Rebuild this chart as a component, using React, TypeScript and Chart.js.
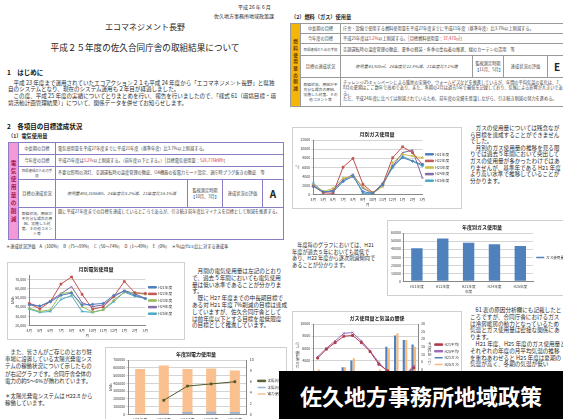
import React, { useEffect, useRef } from 'react';
import { Chart, registerables } from 'chart.js';
Chart.register(...registerables);

const FONT = '"Noto Sans CJK JP", "Noto Sans", sans-serif';
Chart.defaults.font.family = FONT;
Chart.defaults.color = '#404040';

// ---------- data ----------
const months = ['4月', '5月', '6月', '7月', '8月', '9月', '10月', '11月', '12月', '1月', '2月', '3月'];
const fiscalYears = ['H21年度', 'H22年度', 'H23年度', 'H24年度', 'H25年度'];

const elecH21 = [42300, 41200, 45800, 52800, 55300, 42300, 43000, 44000, 52800, 57400, 52800, 49300];
const elecH22 = [43700, 38000, 46100, 65100, 72900, 53900, 37700, 40100, 51400, 68000, 55600, 54900];
const elecH23 = [38700, 35200, 37000, 54600, 56300, 40500, 34500, 37000, 47500, 56300, 55300, 53900];
const elecH24 = [44000, 40500, 46800, 54600, 62300, 44700, 40500, 42300, 51100, 58100, 54600, 49300];
const elecH25 = [37700, 34200, 35200, 48200, 52500, 35200, 34200, 37000, 45800, 56300, 51800, 49300];

const elecYearly = [583000, 628000, 583000, 592000, 565000];
const solarYearly = [null, 15000, 30000, 32000, 31000];
const solarRatio = [null, 2.6, 5.2, 5.6, 6.0];

const gasH21 = [1720, 600, 600, 2850, 3970, 600, 220, 2100, 6220, 8090, 7340, 6590];
const gasH22 = [1870, 370, 220, 6000, 7940, 2250, 370, 2250, 8090, 10490, 9210, 6590];
const gasH23 = [2100, 600, 1350, 3600, 3970, 1720, 220, 1720, 6970, 8840, 8460, 8090];
const gasH24 = [2100, 370, 970, 3220, 4340, 1350, 220, 2100, 6220, 9210, 9740, 3600];
const gasH25 = [2470, 600, 600, 2850, 4340, 220, 220, 2470, 5840, 8460, 7340, 6220];

const gasYearly = [41000, 53300, 47800, 46000, 43900];

const tempH21 = [7.4, 13.3, 17.6, 21.9, 22.4, 17.6, 11.7, 3.3, -1.0, -3.3, -3.8, 1.0];
const tempH25 = [8.3, 14.0, 18.8, 23.8, 24.3, 18.8, 12.2, 4.5, -1.5, -4.2, -3.8, 2.4];

const yearColors = ['#4F81BD', '#C0504D', '#9BBB59', '#8064A2', '#4BACC6'];
const gasYearColors = ['#4F81BD', '#C0504D', '#C8C04A', '#8064A2', '#4BACC6'];
const markers = ['rectRot', 'rect', 'triangle', 'crossRot', 'star'];

// ---------- helpers ----------
const TF = 3.6;
const fmt = (v: any) => Number(v).toLocaleString('en-US');

function lineSets(series: number[][], colors: string[]) {
  return series.map((d, i) => ({
    label: fiscalYears[i],
    data: d,
    borderColor: colors[i],
    backgroundColor: colors[i],
    borderWidth: 1,
    pointRadius: 1.4,
    pointStyle: markers[i],
    pointBorderWidth: 0.6,
  }));
}

function baseOpts(title: string) {
  return {
    responsive: false,
    animation: false,
    maintainAspectRatio: false,
    layout: { padding: { left: 2, right: 2, top: 0, bottom: 1 } },
    plugins: {
      title: { display: true, text: title, font: { size: 5, weight: 'bold' }, color: '#222', padding: { top: 3, bottom: 3 } },
      legend: {
        position: 'right',
        labels: { font: { size: TF }, boxWidth: 8, boxHeight: 1.5, padding: 3, color: '#333' },
      },
      tooltip: { enabled: false },
    },
  };
}

function xScale(titleText: string) {
  return {
    grid: { display: false, tickLength: 2 },
    border: { color: '#888' },
    ticks: { font: { size: TF }, padding: 1, maxRotation: 0, autoSkip: false },
    title: { display: !!titleText, text: titleText, font: { size: TF }, padding: 0 },
  };
}

function yScale(min: number, max: number, step: number, titleText: string, callback?: any) {
  return {
    min, max,
    grid: { color: '#d4d4d4', tickLength: 2 },
    border: { color: '#888' },
    ticks: { stepSize: step, font: { size: TF }, padding: 1, callback: callback || ((v: any) => v) },
    title: { display: !!titleText, text: titleText, font: { size: TF }, padding: 0 },
  };
}

function ChartBox({ left, top, width, height, make }: any) {
  const ref = useRef<HTMLCanvasElement>(null);
  useEffect(() => {
    const chart = new Chart(ref.current as HTMLCanvasElement, make());
    return () => chart.destroy();
  }, []);
  return (
    <div style={{ position: 'absolute', left, top, width, height, border: '1px solid #d0d0d0', boxSizing: 'border-box', background: '#fff' }}>
      <canvas ref={ref} width={width - 2} height={height - 2} style={{ display: 'block', width: width - 2, height: height - 2 }} />
    </div>
  );
}

const makeElecMonthly = () => ({
  type: 'line',
  data: { labels: months, datasets: lineSets([elecH21, elecH22, elecH23, elecH24, elecH25], yearColors) },
  options: {
    ...baseOpts('月別電気使用量'),
    scales: { x: xScale('月'), y: yScale(20000, 75000, 5000, 'kWh', fmt) },
  },
});

const makeElecYearly = () => ({
  type: 'bar',
  data: {
    labels: fiscalYears,
    datasets: [
      { label: '電力使用量', data: elecYearly, backgroundColor: '#FAC090', grouped: false, order: 2, barPercentage: 0.85, categoryPercentage: 0.5, yAxisID: 'y' },
      { label: '太陽光発電量', data: solarYearly, backgroundColor: '#95B3D7', grouped: false, order: 1, barPercentage: 0.85, categoryPercentage: 0.5, yAxisID: 'y' },
      { type: 'line', label: '太陽光発電割合', data: solarRatio, borderColor: '#4F5A2A', backgroundColor: '#4F5A2A', borderWidth: 1, pointRadius: 1.3, pointStyle: 'rect', order: 0, yAxisID: 'y1' },
    ],
  },
  options: {
    ...baseOpts('年度別電力使用量'),
    scales: {
      x: xScale('年度'),
      y: yScale(0, 700000, 100000, 'kWh'),
      y1: { position: 'right', min: 0, max: 10, grid: { display: false, tickLength: 2 }, border: { color: '#888' }, ticks: { stepSize: 1, font: { size: TF }, padding: 1 } },
    },
  },
});

const makeGasMonthly = () => ({
  type: 'line',
  data: { labels: months, datasets: lineSets([gasH21, gasH22, gasH23, gasH24, gasH25], gasYearColors) },
  options: {
    ...baseOpts('月別ガス使用量'),
    scales: { x: xScale('月'), y: yScale(0, 12000, 2000, '㎥') },
  },
});

const makeGasYearly = () => ({
  type: 'bar',
  data: {
    labels: fiscalYears,
    datasets: [{ label: 'ガス使用量', data: gasYearly, backgroundColor: '#4F81BD', barPercentage: 0.55, categoryPercentage: 0.8 }],
  },
  options: {
    ...baseOpts('年度別ガス使用量'),
    scales: { x: xScale('年度'), y: yScale(0, 60000, 10000, '') },
  },
});

const makeGasTemp = () => ({
  type: 'bar',
  data: {
    labels: months,
    datasets: [
      { label: 'H21ガス使用量', data: gasH21, backgroundColor: '#4F81BD', order: 2, barPercentage: 0.9, categoryPercentage: 0.55, yAxisID: 'y' },
      { label: 'H25ガス使用量', data: gasH25, backgroundColor: '#F9B97C', order: 2, barPercentage: 0.9, categoryPercentage: 0.55, yAxisID: 'y' },
      { type: 'line', label: 'H21平均気温', data: tempH21, borderColor: '#B03A4A', backgroundColor: '#B03A4A', borderWidth: 1, pointRadius: 1.3, pointStyle: 'rect', order: 0, yAxisID: 'y1' },
      { type: 'line', label: 'H25平均気温', data: tempH25, borderColor: '#9A6BB8', backgroundColor: '#9A6BB8', borderWidth: 1, pointRadius: 1.3, pointStyle: 'crossRot', order: 0, yAxisID: 'y1' },
    ],
  },
  options: {
    ...baseOpts('ガス使用量と気温の関係'),
    scales: {
      x: xScale('月'),
      y: yScale(0, 10000, 1000, 'ガス使用量（㎥）'),
      y1: { position: 'right', min: -10, max: 30, grid: { display: false, tickLength: 2 }, border: { color: '#888' }, ticks: { stepSize: 5, font: { size: TF }, padding: 1 }, title: { display: true, text: '平均気温（℃）', font: { size: TF }, padding: 0 } },
    },
  },
});

// ---------- text helpers ----------
function Lines({ x, y, lh, fs, lines, color = '#2a2a2a', weight = 400 }: any) {
  return (
    <div style={{ position: 'absolute', left: x, top: y, fontSize: fs, lineHeight: lh + 'px', color, fontWeight: weight, whiteSpace: 'nowrap' }}>
      {lines.map((l: string, i: number) => (<div key={i} style={{ height: lh }}>{l || '\u00a0'}</div>))}
    </div>
  );
}

function Cell({ x, y, w, h, bc, bg = '#fff', children, style = {} }: any) {
  return (
    <div style={{ position: 'absolute', left: x, top: y, width: w + 1, height: h + 1, boxSizing: 'border-box', border: `1px solid ${bc}`, background: bg, overflow: 'hidden', display: 'flex', alignItems: 'center', fontSize: 4.2, lineHeight: '5.4px', color: '#444', padding: '0 2px', ...style }}>
      {children}
    </div>
  );
}

const Red = ({ children }: any) => <span style={{ color: '#E0303A' }}>{children}</span>;

function Vertical({ text, color, fs }: any) {
  return (
    <div style={{ width: '100%', display: 'flex', flexDirection: 'column', alignItems: 'center', fontSize: fs, lineHeight: fs * 1.45 + 'px', fontWeight: 700, color }}>
      {text.split('').map((c: string, i: number) => <div key={i}>{c}</div>)}
    </div>
  );
}

function ElecTable() {
  const bc = '#8C7CC4';
  const X0 = 8, X1 = 18, X2 = 55, X3 = 283;
  const R = [142, 154, 166, 179, 207, 239];
  const label = { justifyContent: 'center', textAlign: 'center' as const };
  return (
    <>
      <Cell x={X0} y={R[0]} w={X1 - X0} h={R[5] - R[0]} bc={bc} bg="#F29AD8" style={{ padding: 0 }}>
        <Vertical text="電気使用量の削減" color="#A8104C" fs={5.6} />
      </Cell>
      <Cell x={X1} y={R[0]} w={X2 - X1} h={R[1] - R[0]} bc={bc} style={label}>中長期の目標</Cell>
      <Cell x={X2} y={R[0]} w={X3 - X2} h={R[1] - R[0]} bc={bc}>電気使用量を平成27年度までに平成21年度（基準年度）比3.7%以上削減する。</Cell>
      <Cell x={X1} y={R[1]} w={X2 - X1} h={R[2] - R[1]} bc={bc} style={label}>今年度の目標</Cell>
      <Cell x={X2} y={R[1]} w={X3 - X2} h={R[2] - R[1]} bc={bc}><span>平成25年度は<Red>3.2%</Red>以上削減する。（前年度以下とする。）［目標電気使用量：<Red>526,776kWh</Red>］</span></Cell>
      <Cell x={X1} y={R[2]} w={X2 - X1} h={R[3] - R[2]} bc={bc} style={{ ...label, fontSize: 3.4 }}>目標達成のための手段</Cell>
      <Cell x={X2} y={R[2]} w={X3 - X2} h={R[3] - R[2]} bc={bc} style={{ whiteSpace: 'nowrap' }}>不要な照明の消灯、空調運転時の温度管理の徹底、OA機器の省電力モード設定、退庁時プラグ抜きの徹底　等</Cell>
      <Cell x={X1} y={R[3]} w={X2 - X1} h={R[4] - R[3]} bc={bc} style={label}>目標の達成状況</Cell>
      <Cell x={X2} y={R[3]} w={187 - X2} h={R[4] - R[3]} bc={bc} style={{ ...label, fontStyle: 'italic' }}>使用量490,318kWh、24年度比5.2%減、21年度比14.1%減</Cell>
      <Cell x={187} y={R[3]} w={35} h={R[4] - R[3]} bc={bc} style={label}>監視測定時期<br />【10月、3月】</Cell>
      <Cell x={222} y={R[3]} w={40} h={R[4] - R[3]} bc={bc} style={label}>達成状況の評価</Cell>
      <Cell x={262} y={R[3]} w={X3 - 262} h={R[4] - R[3]} bc={bc} style={{ ...label, fontSize: 10, fontWeight: 700, color: '#222' }}>A</Cell>
      <Cell x={X1} y={R[4]} w={X2 - X1} h={R[5] - R[4]} bc={bc} style={{ ...label, fontSize: 3.8, lineHeight: '5px' }}>取組状況、原因が不充分な場合の原因、実施した対策、その他コメント等</Cell>
      <Cell x={X2} y={R[4]} w={X3 - X2} h={R[5] - R[4]} bc={bc} style={{ alignItems: 'flex-start', paddingTop: 1 }}>既に平成27年度までの目標を達成しているところであるが、引き続き前年度比マイナスを目標として削減を推進する。</Cell>
    </>
  );
}

function GasTable() {
  const bc = '#9a9a9a';
  const X0 = 290, X1 = 300, X2 = 340, X3 = 580;
  const R = [23, 33, 43, 55, 77, 106];
  const label = { justifyContent: 'center', textAlign: 'center' as const };
  return (
    <>
      <Cell x={X0} y={R[0]} w={X1 - X0} h={R[5] - R[0]} bc={bc} bg="#F5B50A" style={{ padding: 0 }}>
        <Vertical text="燃料使用量の削減" color="#6B3A00" fs={4.6} />
      </Cell>
      <Cell x={X1} y={R[0]} w={X2 - X1} h={R[1] - R[0]} bc={bc} style={label}>中長期の目標</Cell>
      <Cell x={X2} y={R[0]} w={X3 - X2} h={R[1] - R[0]} bc={bc} style={{ whiteSpace: 'nowrap' }}>庁舎・設備で使用する燃料使用量を平成27年度までに平成21年度（基準年度）比3.7%以上削減する。</Cell>
      <Cell x={X1} y={R[1]} w={X2 - X1} h={R[2] - R[1]} bc={bc} style={label}>今年度の目標</Cell>
      <Cell x={X2} y={R[1]} w={X3 - X2} h={R[2] - R[1]} bc={bc}><span>平成25年度は<Red>3.2%</Red>以上削減する。［目標燃料使用量：<Red>37,470㎥</Red>］</span></Cell>
      <Cell x={X1} y={R[2]} w={X2 - X1} h={R[3] - R[2]} bc={bc} style={{ ...label, fontSize: 3.4 }}>目標達成のための手段</Cell>
      <Cell x={X2} y={R[2]} w={X3 - X2} h={R[3] - R[2]} bc={bc}>空調運転時の温度管理の徹底、夏季の軽装・冬季の重ね着の推進、緑のカーテンの活用　等</Cell>
      <Cell x={X1} y={R[3]} w={X2 - X1} h={R[4] - R[3]} bc={bc} style={label}>目標の達成状況</Cell>
      <Cell x={X2} y={R[3]} w={472 - X2} h={R[4] - R[3]} bc={bc} style={{ ...label, fontStyle: 'italic' }}>使用量43,920㎥、24年度比12.9%減、21年度比7.1%増</Cell>
      <Cell x={472} y={R[3]} w={31} h={R[4] - R[3]} bc={bc} style={label}>監視測定時期<br />【11月、5月】</Cell>
      <Cell x={503} y={R[3]} w={44} h={R[4] - R[3]} bc={bc} style={label}>達成状況の評価</Cell>
      <Cell x={547} y={R[3]} w={X3 - 547} h={R[4] - R[3]} bc={bc} style={{ fontSize: 10, fontWeight: 700, color: '#222', paddingLeft: 6 }}>E</Cell>
      <Cell x={X1} y={R[4]} w={X2 - X1} h={R[5] - R[4]} bc={bc} style={{ ...label, fontSize: 3.8, lineHeight: '5px' }}>取組状況、原因が不充分な場合の原因、実施した対策、その他コメント等</Cell>
      <Cell x={X2} y={R[4]} w={X3 - X2} h={R[5] - R[4]} bc={bc} style={{ alignItems: 'flex-start', paddingTop: 2 }}>
        <div style={{ width: 222 }}>チャレンジ25キャンペーンによる暖房の実施や、ウォームビズなどを推進しているが、年間の平均気温の変化は、7、8月の夏期はここ数年で高めであり、また、冬期の2月は過去5年で最低を記録しており、気候による影響が大きいである。<br />ただ、平成24年度に比べては削減されているため、前年度の実績を意識しながら、引き続き削減の努力を進める。</div>
      </Cell>
    </>
  );
}

export default function App() {
  return (
    <div style={{ position: 'fixed', left: 0, top: 0, width: 563, height: 419, overflow: 'hidden', background: '#fff', fontFamily: FONT }}>
      {/* left page header */}
      <Lines x={238} y={3} lh={7} fs={5} lines={['平成 26 年 6 月']} />
      <Lines x={214} y={12} lh={7} fs={5} lines={['佐久地方事務所地域政策課']} />
      <div style={{ position: 'absolute', left: 0, width: 290, top: 21, textAlign: 'center', fontSize: 8, lineHeight: '12px', color: '#222' }}>エコマネジメント長野</div>
      <div style={{ position: 'absolute', left: 0, width: 290, top: 40, textAlign: 'center', fontSize: 8.6, lineHeight: '14px', color: '#222' }}>平成２５年度の佐久合同庁舎の取組結果について</div>

      <Lines x={7} y={67} lh={10} fs={6.5} weight={700} color="#111" lines={['1　はじめに']} />
      <Lines x={8} y={79.5} lh={6.8} fs={5.55} lines={[
        '　平成 23 年度まで運用されていたエコアクション２１も平成 24 年度から「エコマネジメント長野」と県独',
        '自のシステムとなり、現在のシステム運用も２年目が経過しました。',
        '　この度、平成 25 年度の実績についてとりまとめを行い、報告を行いましたので、「様式 61（環境目標・環',
        '境活動計画管理結果）」について、関係データを併せてお知らせします。',
      ]} />
      <Lines x={7} y={121} lh={10} fs={6.5} weight={700} color="#111" lines={['2　各項目の目標達成状況']} />
      <Lines x={8} y={132} lh={8} fs={5.2} weight={700} color="#222" lines={['（1）電気使用量']} />

      <ElecTable />

      <Lines x={6} y={243} lh={6} fs={4.2} lines={['＊達成状況評価　A（100%）　B（75～99%）　C（50～74%）　D（1～49%）　E（0%）　＊%は(H21)比に対する達成率']} />

      <ChartBox left={7} top={262} width={178} height={78} make={makeElecMonthly} />

      <Lines x={192} y={268} lh={6.8} fs={5.6} lines={[
        '　月間の電気使用量は左記のとおり',
        'で、過去５年間においても電気使用',
        '量は低い水準であることが分かりま',
        'す。',
        '　既に H27 年度までの中長期目標で',
        'ある対 H21 年度 7%削減の目標は達成',
        'していますが、佐久合同庁舎として',
        'は前年度以下とする目標を最低限度',
        'の目標として推進しています。',
      ]} />

      <Lines x={5} y={348.5} lh={7.4} fs={5.45} lines={[
        '　また、皆さんがご存じのとおり駐',
        '車場に設置している太陽光発電シス',
        'テムの稼働状況について示したもの',
        'が右記グラフです。合同庁舎全体の',
        '電力の約5～6%が賄われています。',
        '',
        '＊太陽光発電システムは H22.8 から',
        '稼働しています。',
      ]} />

      <ChartBox left={105} top={347} width={182} height={82} make={makeElecYearly} />

      {/* right page */}
      <Lines x={291} y={13} lh={8} fs={5.2} weight={700} color="#222" lines={['（2）燃料（ガス）使用量']} />
      <GasTable />

      <ChartBox left={292} top={127} width={170} height={82} make={makeGasMonthly} />
      <Lines x={470} y={125} lh={6.6} fs={5.6} lines={[
        '　ガスの使用量については残念なが',
        'ら目標を達成することができません',
        'でした。',
        '　月別のガス使用量の推移を見る限',
        'りでは過去５年間において突出して',
        'ガスの使用量が多かったわけではあ',
        'りませんが、基準年である H21 年度',
        'より高い水準で推移していることが',
        '分かります。',
      ]} />

      <ChartBox left={387} top={220} width={190} height={76} make={makeGasYearly} />
      <Lines x={292} y={242} lh={6.7} fs={5.2} lines={[
        '　年度毎のグラフにおいては、H21',
        '年度が過去５年においても最低で',
        'あり、H22 年度から逐次削減傾向で',
        'あることが分かります。',
      ]} />

      <ChartBox left={292} top={311} width={170} height={88} make={makeGasTemp} />
      <Lines x={470} y={307} lh={6.8} fs={5.6} lines={[
        '　61 表の原因分析欄にも記載したと',
        'ころですが、合同庁舎におけるガス',
        'は冷房暖房の動力となっているため',
        '気温とガス使用量は密接な関係にあ',
        'ります。',
        '　H21 年度、H25 年度のガス使用量と',
        'それぞれの年度の月平均気温の推移',
        'を重ねあわせると H25 年度は夏期の',
        '気温が高く、冬期の気温が低い',
      ]} />

      {/* caption band */}
      <div style={{ position: 'absolute', left: 279, top: 371, width: 284, height: 48, background: '#000', color: '#fff', fontSize: 22, fontWeight: 700, lineHeight: '48px', paddingLeft: 21, boxSizing: 'border-box', whiteSpace: 'nowrap' }}>佐久地方事務所地域政策</div>
    </div>
  );
}
